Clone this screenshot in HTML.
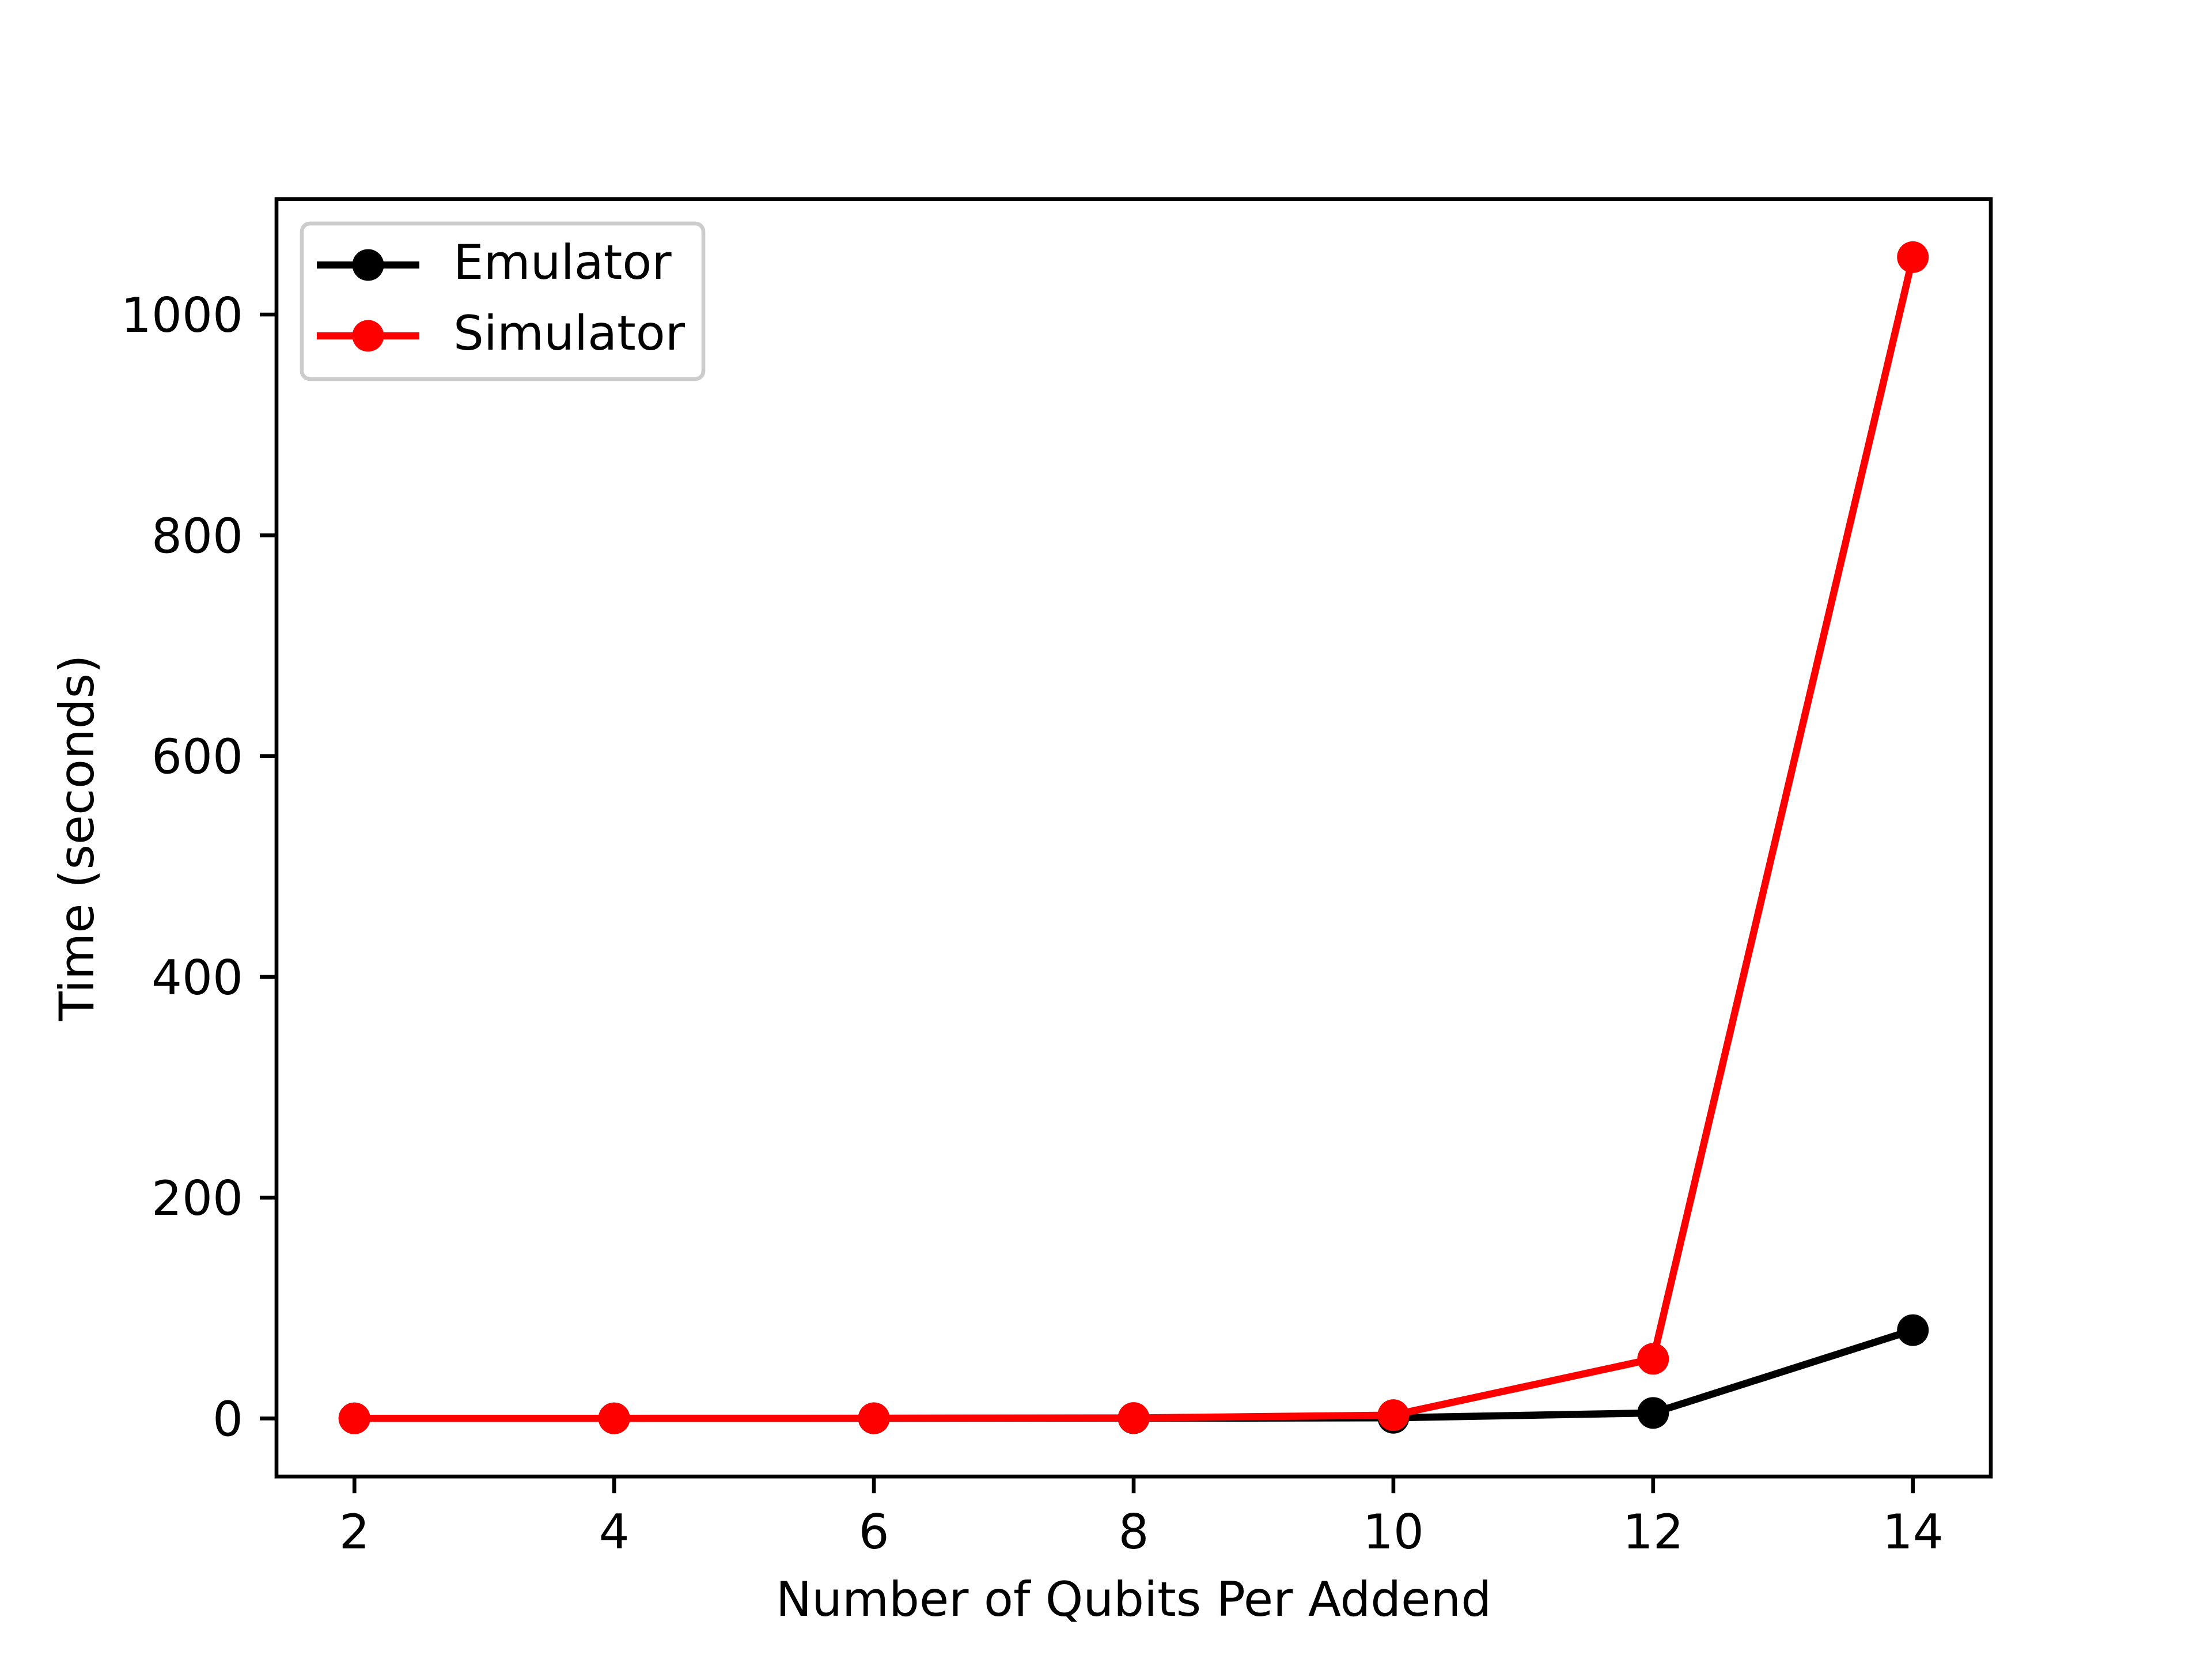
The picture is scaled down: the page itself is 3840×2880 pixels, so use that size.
<!DOCTYPE html>
<html><head><meta charset="utf-8"><style>
html,body{margin:0;padding:0;background:#fff;}
svg{display:block;font-family:"DejaVu Sans","Liberation Sans",sans-serif;}
</style></head><body>
<svg id="chart" width="3840" height="2880" viewBox="0 0 3840 2880" xmlns="http://www.w3.org/2000/svg">
<rect width="3840" height="2880" fill="#fff"/>
<g id="plot"></g>
</svg>
<script>
const categories = [2, 4, 6, 8, 10, 12, 14];
const emulatorValues = [0.1, 0.1, 0.1, 0.2, 0.6, 5, 80];
const simulatorValues = [0.1, 0.1, 0.2, 0.4, 3, 54, 1052];
const xTickLabels = ["2", "4", "6", "8", "10", "12", "14"];
const yTickValues = [0, 200, 400, 600, 800, 1000];
const yTickLabels = ["0", "200", "400", "600", "800", "1000"];

const NS = "http://www.w3.org/2000/svg";
const L = 480, R = 3456, T = 345.6, B = 2563.2;
const xMin = 1.4, xMax = 14.6, yMin = -52.6, yMax = 1104.6;
function xs(v){ return L + (v - xMin) / (xMax - xMin) * (R - L); }
function ys(v){ return B - (v - yMin) / (yMax - yMin) * (B - T); }
const g = document.getElementById('plot');
function mk(tag, attrs){ const e = document.createElementNS(NS, tag); for (const k in attrs) e.setAttribute(k, attrs[k]); return e; }

function series(vals, color, name){
  const grp = mk('g', {});
  
  
  const pts = categories.map((c, i) => xs(c) + ',' + ys(vals[i])).join(' ');
  const pl = mk('polyline', {points: pts, fill: 'none', stroke: color, 'stroke-width': 12.5, 'stroke-linejoin': 'round', 'stroke-linecap': 'square'});
  
  
  grp.appendChild(pl);
  categories.forEach((c, i) => {
    const m = mk('circle', {cx: xs(c), cy: ys(vals[i]), r: 27.5, fill: color});
    
    
    grp.appendChild(m);
  });
  g.appendChild(grp);
}
series(emulatorValues, '#000', 'emulator');
series(simulatorValues, '#ff0000', 'simulator');

const frame = mk('rect', {x: L, y: T, width: R - L, height: B - T, fill: 'none', stroke: '#000', 'stroke-width': 6.67});


g.appendChild(frame);

categories.forEach((c, i) => {
  const t = mk('line', {x1: xs(c), x2: xs(c), y1: B, y2: B + 29, stroke: '#000', 'stroke-width': 6.67});
  
  
  g.appendChild(t);
  const tx = mk('text', {x: xs(c), y: 2688, 'font-size': 83.3, 'text-anchor': 'middle', fill: '#000'});
  tx.textContent = xTickLabels[i];
  
  
  g.appendChild(tx);
});
yTickValues.forEach((v, i) => {
  const t = mk('line', {x1: L - 29, x2: L, y1: ys(v), y2: ys(v), stroke: '#000', 'stroke-width': 6.67});
  
  
  g.appendChild(t);
  const tx = mk('text', {x: 422, y: ys(v) + 30, 'font-size': 83.3, 'text-anchor': 'end', fill: '#000'});
  tx.textContent = yTickLabels[i];
  
  
  g.appendChild(tx);
});
const xt = mk('text', {x: (L + R) / 2, y: 2805, 'font-size': 83.3, 'text-anchor': 'middle', fill: '#000'});
xt.textContent = 'Number of Qubits Per Addend';


g.appendChild(xt);
const yt = mk('text', {x: 0, y: 0, 'font-size': 83.3, 'text-anchor': 'middle', fill: '#000', transform: 'translate(162,' + (T + B) / 2 + ') rotate(-90)'});
yt.textContent = 'Time (seconds)';


g.appendChild(yt);

const lg = mk('g', {});


const lbox = mk('rect', {x: 524, y: 388, width: 697, height: 270, rx: 14, fill: '#fff', 'fill-opacity': 0.8, stroke: '#cccccc', 'stroke-width': 6.67});


lg.appendChild(lbox);
[['Emulator', '#000', 460], ['Simulator', '#ff0000', 583]].forEach(([lab, col, y]) => {
  const e = mk('g', {});
  
  
  const ln = mk('line', {x1: 550, x2: 728, y1: y, y2: y, stroke: col, 'stroke-width': 12.5});
  
  
  e.appendChild(ln);
  const c = mk('circle', {cx: 639, cy: y, r: 27.5, fill: col});
  
  
  e.appendChild(c);
  const t = mk('text', {x: 787, y: y + 24, 'font-size': 83.3, fill: '#000'});
  t.textContent = lab;
  
  
  e.appendChild(t);
  lg.appendChild(e);
});
g.appendChild(lg);
</script>
</body></html>
